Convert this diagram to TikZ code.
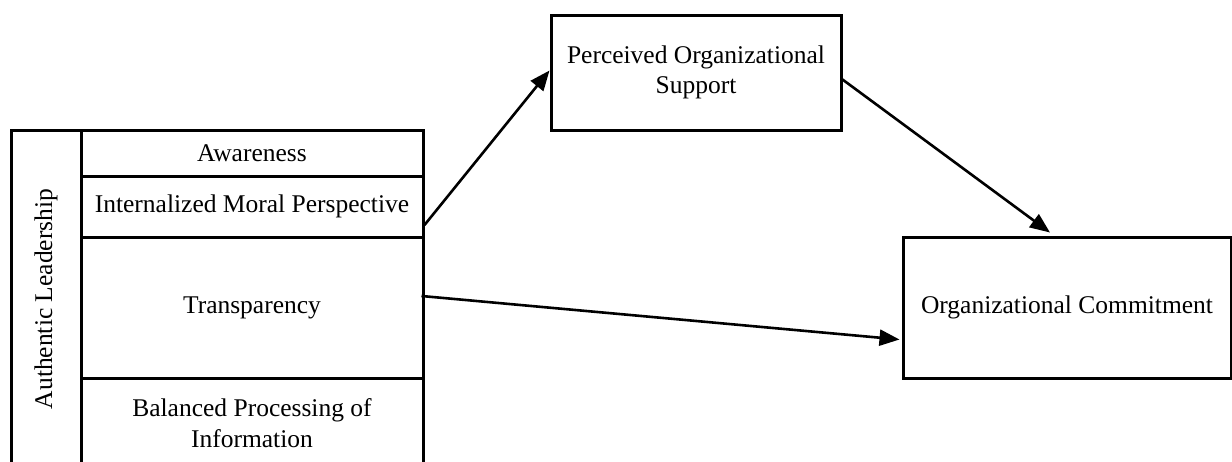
\documentclass[tikz,border=0pt]{standalone}
\usepackage{fontspec}
\setmainfont{Liberation Serif}
\usetikzlibrary{arrows.meta}
\begin{document}
\begin{tikzpicture}[x=1pt,y=-1pt,
  box/.style={draw=black,line width=3pt,inner sep=0pt,align=center,
    font=\fontsize{25.5}{30.5}\selectfont},
  conn/.style={line width=2.6pt,-{Triangle[length=20pt,width=16pt]}}]
\useasboundingbox (0,0) rectangle (1232,461);
\clip (0,0) rectangle (1232,461);
\fill[white] (0,0) rectangle (1232,461);
% left block
\node[box,rotate=90,minimum width=338pt,minimum height=70pt] (al) at (46,299) {Authentic Leadership};
\node[box,minimum width=342pt,minimum height=46pt] (aw) at (252,153) {Awareness};
\node[box,minimum width=342pt,minimum height=61pt] (imp) at (252,206.5) {Internalized Moral Perspective};
\node[box,minimum width=342pt,minimum height=141pt] (tr) at (252,307.5) {Transparency};
\node[box,minimum width=342pt,minimum height=90pt] (bpi) at (252,423) {Balanced Processing of\\Information};
% right boxes
\node[box,minimum width=290pt,minimum height=115pt] (pos) at (696,72.5) {Perceived Organizational\\Support};
\node[box,minimum width=328pt,minimum height=141pt] (oc) at (1067,307.5) {Organizational Commitment};
% connectors
\draw[conn] ([yshift=-18.5pt]imp.east) -- ([yshift=2pt]pos.west);
\draw[conn] ([yshift=-7pt]pos.east) -- ([xshift=-17pt,yshift=3pt]oc.north);
\draw[conn] ([xshift=-3pt,yshift=11.5pt]tr.east) -- ([xshift=-2pt,yshift=-32pt]oc.west);
\end{tikzpicture}
\end{document}
